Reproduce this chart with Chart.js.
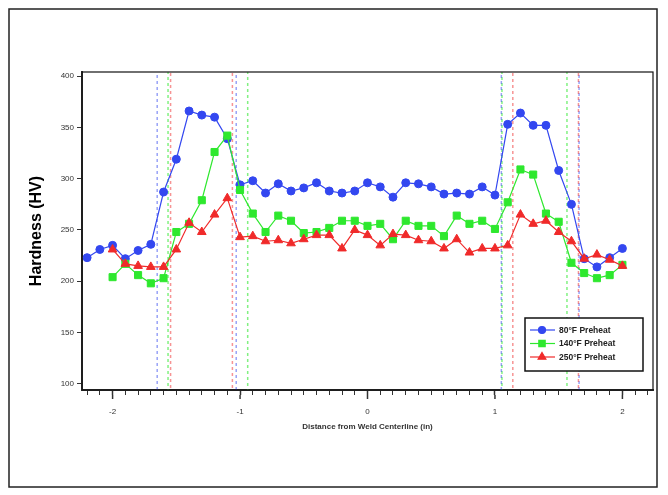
<!DOCTYPE html>
<html>
<head>
<meta charset="utf-8">
<script src="https://cdn.jsdelivr.net/npm/chart.js@4"></script>
<style>
  body { margin: 0; background: #fff; }
</style>
</head>
<body>
<canvas id="hardnessChart" width="668" height="495"></canvas>
<script>
// distance from weld centerline (in)
const distances = [-2.2, -2.1, -2.0, -1.9, -1.8, -1.7, -1.6, -1.5, -1.4, -1.3, -1.2, -1.1, -1.0,
  -0.9, -0.8, -0.7, -0.6, -0.5, -0.4, -0.3, -0.2, -0.1, 0.0, 0.1, 0.2, 0.3, 0.4, 0.5, 0.6, 0.7,
  0.8, 0.9, 1.0, 1.1, 1.2, 1.3, 1.4, 1.5, 1.6, 1.7, 1.8, 1.9, 2.0];

const preheat80 = [223, 231, 235, 222, 230, 236, 287, 319, 366, 362, 360, 339, 294,
  298, 286, 295, 288, 291, 296, 288, 286, 288, 296, 292, 282, 296, 295, 292, 285, 286,
  285, 292, 284, 353, 364, 352, 352, 308, 275, 222, 214, 223, 232];

const preheat140 = [null, null, 204, 217, 206, 198, 203, 248, 256, 279, 326, 342, 289,
  266, 248, 264, 259, 247, 248, 252, 259, 259, 254, 256, 241, 259, 254, 254, 244, 264,
  256, 259, 251, 277, 309, 304, 266, 258, 218, 208, 203, 206, 216];

const preheat250 = [null, null, 231, 217, 215, 214, 214, 231, 257, 248, 265, 281, 243,
  244, 239, 240, 237, 241, 245, 245, 232, 250, 245, 235, 246, 245, 240, 239, 232, 241,
  228, 232, 232, 235, 265, 256, 259, 248, 239, 222, 226, 221, 215];

const seriesLabels = ['80°F Preheat', '140°F Preheat', '250°F Preheat'];

// zone boundaries (x) and the series each one belongs to
const boundaryX = [-1.65, -1.565, -1.545, -1.06, -1.03, -0.94, 1.05, 1.055, 1.14, 1.565, 1.655, 1.66];
const boundarySeries = [0, 1, 2, 2, 0, 1, 0, 1, 2, 1, 2, 0];

const yTicks = [100, 150, 200, 250, 300, 350, 400];
const xMajorTicks = [-2, -1, 0, 1, 2];

const colors = ['#3347f0', '#2ee82e', '#f02a2a'];
const lineColors = ['rgba(51,71,240,0.5)', 'rgba(46,232,46,0.6)', 'rgba(240,42,42,0.5)'];
const shapes = ['circle', 'rect', 'triangle'];
const radii = [4, 5, 5];

const yMin = 94, yMax = 404;

function seriesData(values) {
  return distances.map((d, i) => ({ x: d, y: values[i] }));
}

const datasets = [preheat80, preheat140, preheat250].map((vals, i) => ({
  label: seriesLabels[i],
  data: seriesData(vals),
  borderColor: colors[i],
  backgroundColor: colors[i],
  borderWidth: 1.2,
  pointStyle: shapes[i],
  pointRadius: radii[i],
  pointBorderWidth: 1,
  order: 3 - i
}));

boundaryX.forEach((bx, i) => {
  const s = boundarySeries[i];
  datasets.push({
    label: 'boundary',
    data: [{ x: bx, y: yMin }, { x: bx, y: yMax }],
    borderColor: lineColors[s],
    borderWidth: 1.5,
    borderDash: [3, 3],
    borderDashOffset: s * 2,
    pointRadius: 0,
    order: 10
  });
});

// plot frame, longer major x ticks, outer frame and the boxed legend
const framePlugin = {
  id: 'framePlugin',
  afterDraw(chart) {
    const ctx = chart.ctx;
    const a = chart.chartArea;
    const xs = chart.scales.x;
    ctx.save();
    ctx.strokeStyle = '#111';
    ctx.lineWidth = 1.2;
    ctx.strokeRect(a.left, a.top, a.right - a.left, a.bottom - a.top);

    ctx.strokeStyle = '#333';
    ctx.lineWidth = 1.5;
    xMajorTicks.forEach(v => {
      const px = xs.getPixelForValue(v);
      ctx.beginPath();
      ctx.moveTo(px, a.bottom + 5);
      ctx.lineTo(px, a.bottom + 9);
      ctx.stroke();
    });

    ctx.lineWidth = 1.5;
    ctx.strokeStyle = '#222';
    ctx.strokeRect(9, 9, 648, 478);

    // legend
    const lx = 525, ly = 318, lw = 118, lh = 53;
    ctx.fillStyle = '#fff';
    ctx.fillRect(lx, ly, lw, lh);
    ctx.strokeStyle = '#111';
    ctx.lineWidth = 1.5;
    ctx.strokeRect(lx, ly, lw, lh);
    ctx.font = 'bold 8.5px "Liberation Sans", Arial, sans-serif';
    ctx.textBaseline = 'middle';
    for (let i = 0; i < 3; i++) {
      const y = ly + 12 + i * 13.5;
      ctx.strokeStyle = colors[i];
      ctx.lineWidth = 1.2;
      ctx.beginPath();
      ctx.moveTo(lx + 5, y);
      ctx.lineTo(lx + 30, y);
      ctx.stroke();
      ctx.fillStyle = colors[i];
      Chart.helpers.drawPoint(ctx, { pointStyle: shapes[i], radius: radii[i] - 0.5, borderWidth: 1 }, lx + 17, y);
      ctx.fillStyle = '#222';
      ctx.fillText(seriesLabels[i], lx + 34, y + 0.5);
    }
    ctx.restore();
  }
};

new Chart(document.getElementById('hardnessChart'), {
  type: 'line',
  data: { datasets: datasets },
  options: {
    responsive: false,
    animation: false,
    layout: { padding: { left: 18, top: 72, right: 15, bottom: 60 } },
    plugins: {
      legend: { display: false },
      tooltip: { enabled: false }
    },
    scales: {
      x: {
        type: 'linear',
        min: -2.24,
        max: 2.24,
        afterFit: s => { s.height = 45; },
        afterBuildTicks: s => {
          const t = [];
          for (let i = -22; i <= 22; i++) t.push({ value: i / 10 });
          s.ticks = t;
        },
        ticks: {
          autoSkip: false,
          maxRotation: 0,
          padding: 12,
          color: '#333',
          font: { size: 8, family: '"Liberation Sans", Arial, sans-serif' },
          callback: v => xMajorTicks.includes(Math.round(v * 10) / 10) ? String(Math.round(v)) : ''
        },
        grid: {
          drawOnChartArea: false,
          tickLength: 5,
          color: '#333',
          tickWidth: c => (c.tick && Number.isInteger(Math.round(c.tick.value * 10) / 10) ? 1.5 : 1)
        },
        border: { color: '#333', width: 2 },
        title: {
          display: true,
          text: 'Distance from Weld Centerline (in)',
          color: '#333',
          padding: { top: 2, bottom: 3 },
          font: { size: 8, weight: 'bold', family: '"Liberation Sans", Arial, sans-serif' }
        }
      },
      y: {
        min: yMin,
        max: yMax,
        afterFit: s => { s.width = 64; },
        afterBuildTicks: s => { s.ticks = yTicks.map(v => ({ value: v })); },
        ticks: {
          padding: 3,
          color: '#333',
          font: { size: 8, family: '"Liberation Sans", Arial, sans-serif' }
        },
        grid: { drawOnChartArea: false, tickLength: 5, color: '#333' },
        border: { color: '#333', width: 2 },
        title: {
          display: true,
          text: 'Hardness (HV)',
          color: '#000',
          padding: { top: 9, bottom: 0 },
          font: { size: 16, weight: 'bold', family: '"Liberation Sans", Arial, sans-serif' }
        }
      }
    }
  },
  plugins: [framePlugin]
});
</script>
</body>
</html>
